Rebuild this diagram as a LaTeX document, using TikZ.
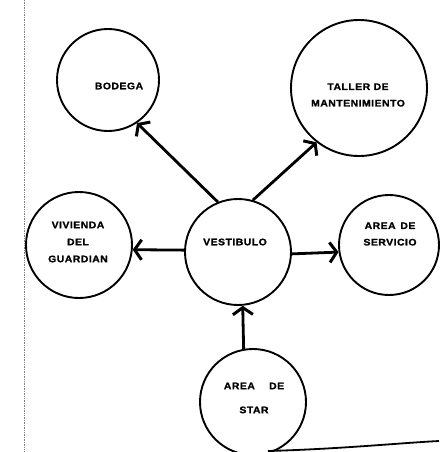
\documentclass[tikz,border=0pt]{standalone}
\usepackage{fontspec}
\usetikzlibrary{arrows.meta}
\newfontfamily\lblfont[FakeStretch=1.1,LetterSpace=5,FakeBold=1.2]{Liberation Sans}
\begin{document}
\begin{tikzpicture}[x=1pt,y=-1pt,
  room/.style={circle,draw,line width=1.9pt,inner sep=0pt},
  lbl/.style={align=center,font=\lblfont\bfseries\fontsize{9.5}{17}\selectfont,inner sep=0pt},
  conn/.style={line width=2.8pt,-{Straight Barb[length=7pt,width=20pt,line width=3pt]}}]
\useasboundingbox (0,0) rectangle (439,452);
% page edge marks
\coordinate (ltop) at (24,0);
\coordinate (lbot) at (24,452);
\draw[gray,densely dotted,line width=0.7pt] (ltop) -- (lbot);
% rooms
\node[room,minimum size=102pt] (bod) at (108,80) {};
\node[room,minimum size=136pt] (tal) at (359,88) {};
\node[room,minimum size=106pt] (viv) at (79,245) {};
\node[room,minimum size=106pt] (ves) at (238,252) {};
\node[room,minimum size=100pt] (ser) at (389,245) {};
\node[room,minimum size=106pt] (sta) at (253,402) {};
% labels
\node[lbl] (tbod) at (119,86) {BODEGA};
\node[lbl] (ttal) at (358,95) {TALLER DE\\[-0.5pt]MANTENIMIENTO};
\node[lbl] (tviv) at (78,242) {VIVIENDA\\DEL\\GUARDIAN};
\node[lbl] (tves) at (235,242) {VESTIBULO};
\node[lbl] (tser) at (390,234) {AREA\enspace DE\\[-0.5pt]SERVICIO};
\node[lbl] (tsta) at (254,398) {AREA\quad\enspace DE\\[7pt]STAR};
% connectors
\draw[conn] (ves.112.8) -- (bod.-56);
\draw[conn] (ves.74) -- (tal.232);
\draw[conn] (ves.178) -- (viv.-5);
\draw[conn] (ves.-2) -- (ser.188);
\draw[conn] (sta.100) -- (ves.-85);
% bottom edge line
\coordinate (b1) at (268,451);
\coordinate (b2) at (439,441);
\draw[line width=1.8pt] (b1) .. controls (340,449) and (400,443) .. (b2);
\end{tikzpicture}
\end{document}
